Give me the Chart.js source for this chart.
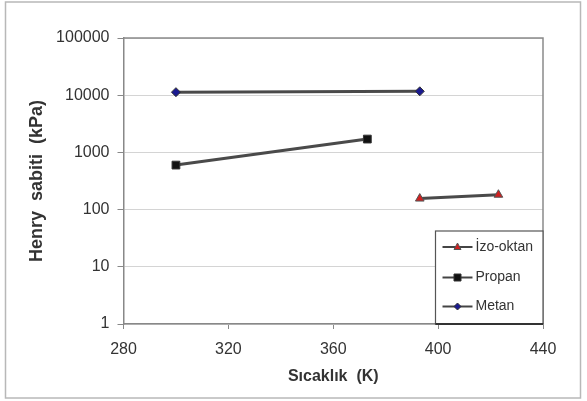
<!DOCTYPE html>
<html><head><meta charset="utf-8">
<script src="https://cdn.jsdelivr.net/npm/chart.js@4/dist/chart.umd.min.js"></script>
<style>html,body{margin:0;padding:0;background:#fff;}#wrap{width:587px;height:401px;}</style>
</head><body><div id="wrap"><canvas id="c" width="587" height="401"></canvas></div>
<script>
const seriesNames = ['İzo-oktan', 'Propan', 'Metan'];
const izoOktanX = [393, 423];
const izoOktanY = [156, 182];
const propanX = [300, 373];
const propanY = [600, 1710];
const metanX = [300, 393];
const metanY = [11300, 11700];
const xTicks = [280, 320, 360, 400, 440];
const yTicks = [1, 10, 100, 1000, 10000, 100000];

const FONT = '"Liberation Sans", Arial, sans-serif';
const pts = (xs, ys) => xs.map((x, i) => ({x: x, y: ys[i]}));

const bgPlugin = {
  id: 'bg',
  beforeDraw(chart) {
    const ctx = chart.ctx;
    ctx.save();
    ctx.fillStyle = '#fff';
    ctx.fillRect(0, 0, chart.width, chart.height);
    ctx.strokeStyle = '#b8b8b8';
    ctx.lineWidth = 1.5;
    ctx.strokeRect(5.5, 2, 575, 396);
    ctx.restore();
  },
  beforeDatasetsDraw(chart) {
    const a = chart.chartArea, ctx = chart.ctx;
    ctx.save();
    ctx.strokeStyle = '#8a8a8a';
    ctx.lineWidth = 1.5;
    ctx.beginPath();
    ctx.moveTo(a.left, a.top); ctx.lineTo(a.right, a.top); ctx.lineTo(a.right, a.bottom);
    ctx.stroke();
    ctx.restore();
  },
  afterDraw(chart) {
    const a = chart.chartArea, ctx = chart.ctx;
    const bx = a.left + 312, by = 231, bw = a.right - bx, bh = a.bottom - by;
    ctx.save();
    ctx.fillStyle = '#fff';
    ctx.fillRect(bx, by, bw, bh);
    ctx.strokeStyle = '#555';
    ctx.lineWidth = 1.2;
    ctx.strokeRect(bx, by, bw, bh);
    ctx.strokeStyle = '#333';
    ctx.lineWidth = 2.2;
    ctx.beginPath(); ctx.moveTo(bx, a.bottom); ctx.lineTo(a.right, a.bottom); ctx.stroke();
    const rows = [247, 277.5, 306.5];
    chart.data.datasets.forEach((ds, i) => {
      const y = rows[i];
      ctx.strokeStyle = '#444';
      ctx.lineWidth = 2;
      ctx.beginPath(); ctx.moveTo(bx + 7, y); ctx.lineTo(bx + 37, y); ctx.stroke();
      const mx = bx + 22;
      ctx.fillStyle = ds.pointBackgroundColor;
      ctx.strokeStyle = ds.pointBorderColor;
      ctx.lineWidth = 1;
      ctx.beginPath();
      if (ds.pointStyle === 'triangle') {
        ctx.moveTo(mx, y - 4); ctx.lineTo(mx + 3.5, y + 2.5); ctx.lineTo(mx - 3.5, y + 2.5); ctx.closePath();
      } else if (ds.pointStyle === 'rect') {
        ctx.rect(mx - 3.5, y - 3.5, 7, 7);
      } else {
        ctx.moveTo(mx, y - 3.5); ctx.lineTo(mx + 3.5, y); ctx.lineTo(mx, y + 3.5); ctx.lineTo(mx - 3.5, y); ctx.closePath();
      }
      ctx.fill(); ctx.stroke();
      ctx.fillStyle = '#333';
      ctx.font = '14px ' + FONT;
      ctx.textBaseline = 'middle';
      ctx.textAlign = 'left';
      ctx.fillText(ds.label, bx + 40, y);
    });
    ctx.restore();
  }
};

new Chart(document.getElementById('c'), {
  type: 'line',
  data: {
    datasets: [
      {label: seriesNames[0], data: pts(izoOktanX, izoOktanY), borderColor: '#4a4a4a', borderWidth: 3,
       pointStyle: 'triangle', pointRadius: 5, pointBackgroundColor: '#d02020', pointBorderColor: '#555', pointBorderWidth: 1},
      {label: seriesNames[1], data: pts(propanX, propanY), borderColor: '#4a4a4a', borderWidth: 3,
       pointStyle: 'rect', pointRadius: 5.5, pointBackgroundColor: '#111', pointBorderColor: '#333', pointBorderWidth: 1},
      {label: seriesNames[2], data: pts(metanX, metanY), borderColor: '#4a4a4a', borderWidth: 3,
       pointStyle: 'rectRot', pointRadius: 4.5, pointBackgroundColor: '#1a1a90', pointBorderColor: '#333', pointBorderWidth: 1}
    ]
  },
  options: {
    responsive: false,
    animation: false,
    layout: {padding: {left: 22, right: 44, top: 38, bottom: 8}},
    plugins: {legend: {display: false}, tooltip: {enabled: false}},
    scales: {
      x: {
        type: 'linear', min: 280, max: 440,
        afterBuildTicks(s) { s.ticks = xTicks.map(v => ({value: v})); },
        afterFit(s) { s.height = 401 - 324 - 8; },
        grid: {drawOnChartArea: false, tickLength: 5, tickColor: '#888'},
        border: {color: '#888', width: 1.5},
        ticks: {color: '#333', font: {family: FONT, size: 16}, padding: 11},
        title: {display: true, text: 'Sıcaklık  (K)', color: '#333', font: {family: FONT, size: 16, weight: 'bold'}, padding: {top: 0, bottom: 7}}
      },
      y: {
        type: 'logarithmic', min: 1, max: 100000,
        afterBuildTicks(s) { s.ticks = yTicks.map(v => ({value: v})); },
        afterFit(s) { s.width = 123.5 - 22; },
        grid: {color: '#d4d4d4', lineWidth: 1, tickLength: 6, tickColor: '#888'},
        border: {color: '#888', width: 1.5},
        ticks: {color: '#333', font: {family: FONT, size: 16}, padding: 8, callback: v => String(v)},
        title: {display: true, text: 'Henry  sabiti  (kPa)', color: '#333', font: {family: FONT, size: 18, weight: 'bold'}, padding: {top: 4, bottom: 4}}
      }
    }
  },
  plugins: [bgPlugin]
});
</script></body></html>
